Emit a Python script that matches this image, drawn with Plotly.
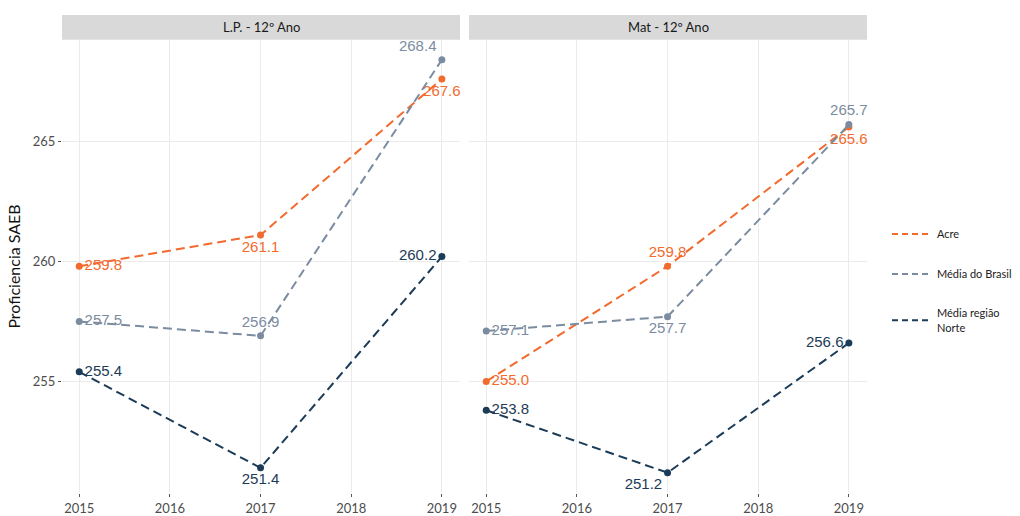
import plotly.graph_objects as go

years = [2015, 2017, 2019]
series_names = ["Acre", "Média do Brasil", "Média região<br>Norte"]
colors = ["#F26A2E", "#7B8CA0", "#1C3B57"]

lp_acre = [259.8, 261.1, 267.6]
lp_brasil = [257.5, 256.9, 268.4]
lp_norte = [255.4, 251.4, 260.2]

mat_acre = [255.0, 259.8, 265.6]
mat_brasil = [257.1, 257.7, 265.7]
mat_norte = [253.8, 251.2, 256.6]

panel_titles = ["L.P. - 12º Ano", "Mat - 12º Ano"]

# label placement per point, per panel
lp_pos = [
    ["middle right", "bottom center", "bottom center"],
    ["middle right", "top center", "top left"],
    ["middle right", "bottom center", "middle left"],
]
mat_pos = [
    ["middle right", "top center", "bottom center"],
    ["middle right", "bottom center", "top center"],
    ["middle right", "bottom left", "middle left"],
]

panels = [
    ([lp_acre, lp_brasil, lp_norte], lp_pos, "x", "y"),
    ([mat_acre, mat_brasil, mat_norte], mat_pos, "x2", "y2"),
]

fig = go.Figure()

for values, positions, xa, ya in panels:
    for vals, pos, col in zip(values, positions, colors):
        fig.add_trace(go.Scatter(
            x=years, y=vals, xaxis=xa, yaxis=ya,
            mode="lines+markers+text",
            line=dict(color=col, width=2, dash="9px,5px"),
            marker=dict(color=col, size=7),
            text=[f"{v:.1f}" for v in vals],
            textposition=pos,
            textfont=dict(family="Liberation Sans, Arial", size=15, color=col),
            showlegend=False, cliponaxis=False,
        ))

# legend entries
for i, (name, col) in enumerate(zip(series_names, colors)):
    fig.add_trace(go.Scatter(
        x=[None], y=[None], mode="lines", name=name,
        line=dict(color=col, width=2, dash="6px,4px"),
        legendgroup=f"g{i}", showlegend=True,
    ))

y_top = 1 - 40 / 516
y_bot = 1 - 495 / 516
dom1 = [62 / 1020, 460 / 1020]
dom2 = [469 / 1020, 867 / 1020]

common_x = dict(
    range=[2014.81, 2019.2], tickvals=[2015, 2016, 2017, 2018, 2019],
    showgrid=True, gridcolor="#ebebeb", gridwidth=1.2, zeroline=False,
    ticks="outside", ticklen=3, tickcolor="#555555",
    tickfont=dict(family="Lato", size=13, color="#4d4d4d"),
    showline=False,
)
common_y = dict(
    range=[250.35, 269.23], tickvals=[255, 260, 265],
    showgrid=True, gridcolor="#ebebeb", gridwidth=1.2, zeroline=False,
    showline=False,
)

fig.update_layout(
    width=1020, height=516,
    margin=dict(l=0, r=0, t=0, b=0),
    paper_bgcolor="white", plot_bgcolor="white",
    xaxis=dict(domain=dom1, anchor="y", **common_x),
    xaxis2=dict(domain=dom2, anchor="y2", **common_x),
    yaxis=dict(domain=[y_bot, y_top], anchor="x", ticks="outside", ticklen=3,
               tickcolor="#555555",
               tickfont=dict(family="Lato", size=13, color="#4d4d4d"),
               title=dict(text="Proficiencia SAEB",
                          font=dict(family="Lato", size=16, color="#111111"),
                          standoff=8),
               **common_y),
    yaxis2=dict(domain=[y_bot, y_top], anchor="x2", showticklabels=False,
                ticks="", **common_y),
    legend=dict(
        x=887 / 1020, y=0.573, xanchor="left", yanchor="top",
        font=dict(family="Lato", size=11, color="#222222"),
        tracegroupgap=21, itemwidth=40, bgcolor="rgba(0,0,0,0)",
    ),
)

# facet strips
strip_top = 1 - 15 / 516
for dom, title in zip([dom1, dom2], panel_titles):
    fig.add_shape(type="rect", xref="paper", yref="paper",
                  x0=dom[0], x1=dom[1], y0=y_top, y1=strip_top,
                  fillcolor="#d9d9d9", line=dict(width=0), layer="below")
    fig.add_annotation(xref="paper", yref="paper",
                       x=(dom[0] + dom[1]) / 2, y=(y_top + strip_top) / 2,
                       xanchor="center", yanchor="middle",
                       text=title, showarrow=False,
                       font=dict(family="Lato", size=13, color="#1a1a1a"))

fig.write_html("out.html")
